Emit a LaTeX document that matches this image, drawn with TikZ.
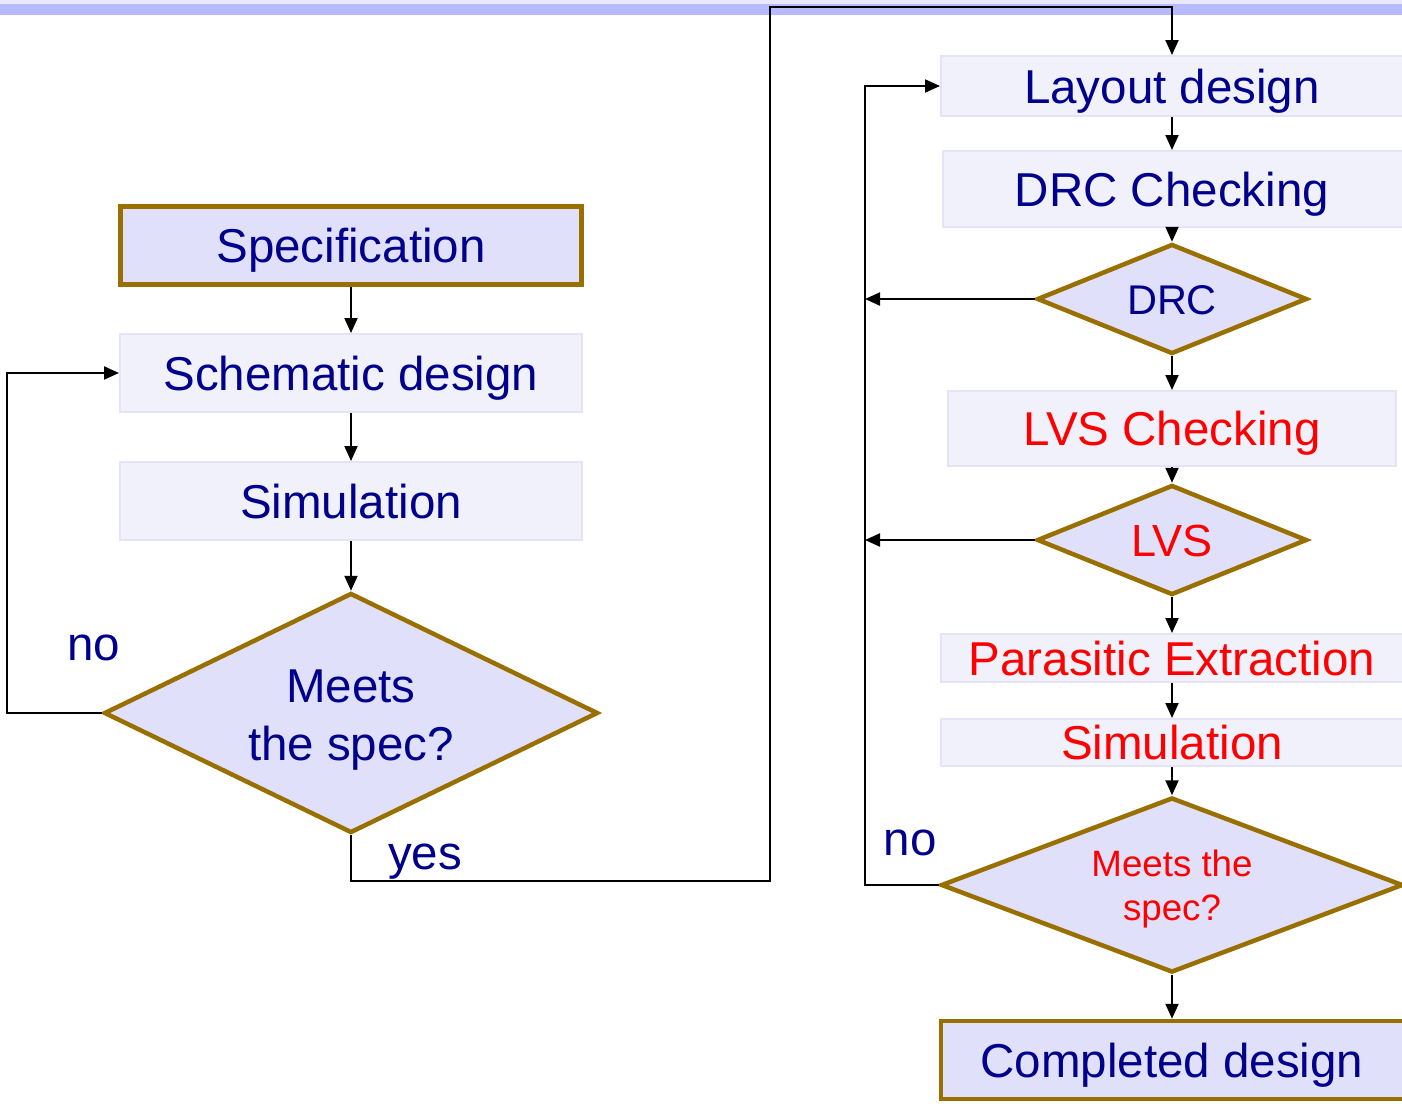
\documentclass[tikz,border=0pt]{standalone}
\usepackage{fontspec}
\setmainfont{Liberation Sans}
\usetikzlibrary{shapes.geometric,arrows.meta}
\definecolor{navy}{RGB}{0,0,140}
\definecolor{bandc}{RGB}{184,186,255}
\definecolor{bandl}{RGB}{232,232,250}
\definecolor{brownb}{RGB}{153,112,0}
\definecolor{fillA}{RGB}{224,224,250}
\definecolor{fillB}{RGB}{241,241,252}
\definecolor{lineB}{RGB}{228,228,246}
\begin{document}
\begin{tikzpicture}[x=1pt,y=-1pt,
  every node/.style={font=\fontsize{47.5}{58}\selectfont},
  conn/.style={line width=2pt, -{Triangle[length=15pt,width=13pt]}},
  plainbox/.style={rectangle, fill=fillB, draw=lineB, line width=2pt, inner sep=0pt, text height=34pt, text depth=0pt, text=navy},
  keybox/.style={rectangle, fill=fillA, draw=brownb, line width=4.5pt, inner sep=0pt, text height=34pt, text depth=0pt, text=navy},
  decide/.style={diamond, fill=fillA, draw=brownb, line width=4.5pt, inner sep=0pt},
  lbl/.style={anchor=base, inner sep=0pt, text=navy},
]
\useasboundingbox (0,0) rectangle (1402,1103);
\fill[bandl] (0,0) rectangle (1402,4);
\fill[bandc] (0,4) rectangle (1402,15);

% left column
\node[keybox, minimum width=461pt, minimum height=78pt] (spec) at (351,245.5) {Specification};
\node[plainbox, minimum width=462pt, minimum height=78pt] (schem) at (351,373) {Schematic design};
\node[plainbox, minimum width=462pt, minimum height=78pt] (sim1) at (351,501) {Simulation};
\node[decide, minimum width=494pt, minimum height=240pt] (meet1) at (351,713) {};
\node[lbl] (m1a) at (351,702) {Meets};
\node[lbl] (m1b) at (351,760) {the spec?};
\node[lbl] (no1) at (94,660) {no};
\node[lbl] (yes1) at (425,869) {yes};

% right column (boxes run past the right edge; text stays centred at x=1172)
\node[plainbox, minimum width=476pt, minimum height=60pt] (layout) at (1179,86) {Layout design\kern14pt};
\node[plainbox, minimum width=472pt, minimum height=76pt] (drcchk) at (1179,189) {DRC Checking\kern14pt};
\node[decide, minimum width=270pt, minimum height=110pt] (drc) at (1172,299) {};
\node[lbl, font=\fontsize{41.5}{50}\selectfont] (drct) at (1172,314) {DRC};
\node[plainbox, text=red, minimum width=448pt, minimum height=75pt] (lvschk) at (1172,428.5) {LVS Checking};
\node[decide, minimum width=270pt, minimum height=110pt] (lvs) at (1172,540) {};
\node[lbl, text=red, font=\fontsize{45}{54}\selectfont] (lvst) at (1172,556) {LVS};
\node[plainbox, text=red, minimum width=476pt, minimum height=48pt] (pex) at (1179,658) {Parasitic Extraction\kern14pt};
\node[plainbox, text=red, minimum width=476pt, minimum height=47pt] (sim2) at (1179,742.5) {Simulation\kern14pt};
\node[decide, minimum width=462pt, minimum height=175pt] (meet2) at (1172,885) {};
\node[lbl, text=red, font=\fontsize{36.7}{44}\selectfont] (m2a) at (1172,876) {Meets the};
\node[lbl, text=red, font=\fontsize{36.7}{44}\selectfont] (m2b) at (1172,920) {spec?};
\node[keybox, minimum width=478pt, minimum height=78pt] (done) at (1180,1060) {Completed design\kern16pt};
\node[lbl] (no2) at (910,855) {no};

% helper coordinates
\coordinate (nl) at (7,713);
\coordinate (ya) at (770,881);
\coordinate (yb) at (770,7);
\coordinate (lx) at (865,885);
\coordinate (rc) at (1172,0);

% left connectors
\draw[conn] (spec) -- (schem);
\draw[conn] (schem) -- (sim1);
\draw[conn] (sim1) -- (meet1);
\draw[conn] (meet1.west) -- (nl) |- (schem.west);
\draw[conn] (meet1.south) |- (ya) -- (yb) -| (layout.north -| rc);

% right connectors
\draw[conn] (layout.south -| rc) -- (drcchk.north -| rc);
\draw[conn] (drcchk.south -| rc) -- (drc.north);
\draw[conn] (drc) -- (lvschk);
\draw[conn] (lvschk) -- (lvs);
\draw[conn] (lvs.south) -- (pex.north -| rc);
\draw[conn] (pex.south -| rc) -- (sim2.north -| rc);
\draw[conn] (sim2.south -| rc) -- (meet2.north);
\draw[conn] (meet2.south) -- (done.north -| rc);
\draw[conn] (drc.west) -- (drc.west -| lx);
\draw[conn] (lvs.west) -- (lvs.west -| lx);
\draw[conn] (meet2.west) -- (lx) |- (layout.west);
\end{tikzpicture}
\end{document}
